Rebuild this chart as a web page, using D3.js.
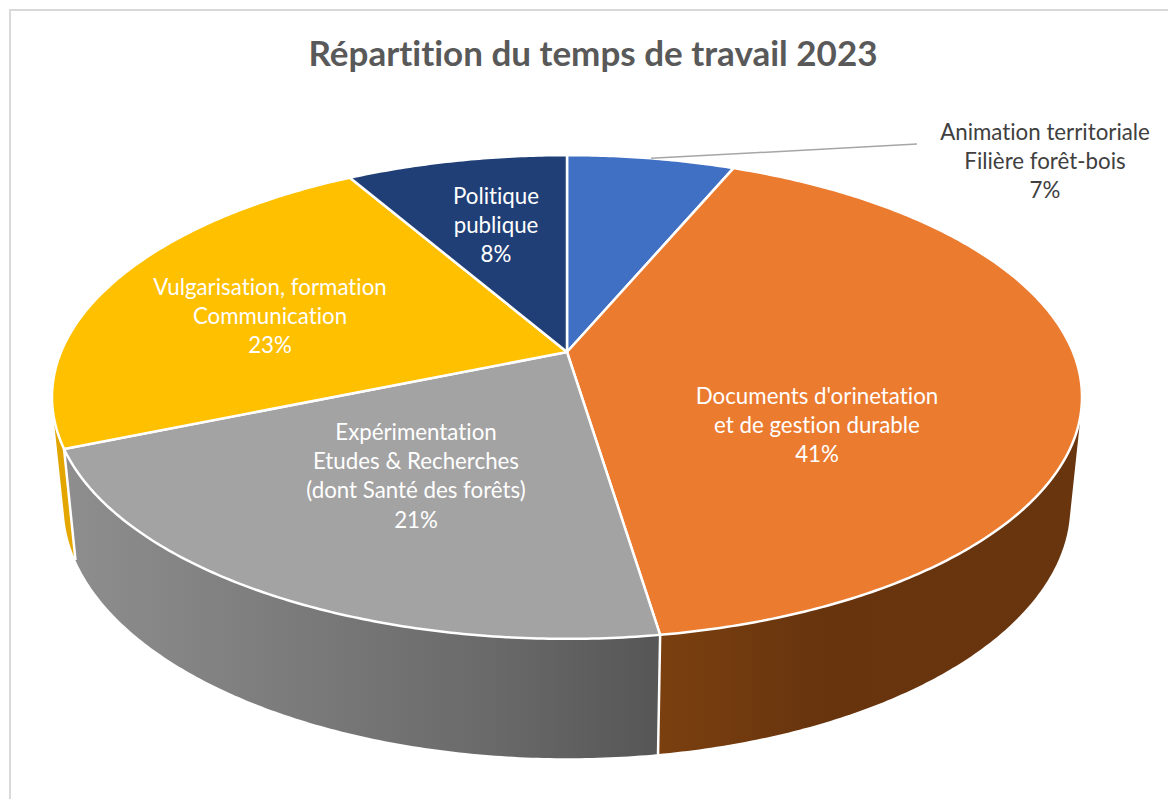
<!DOCTYPE html>
<html lang="fr">
<head>
<meta charset="utf-8">
<script src="https://cdn.jsdelivr.net/npm/d3@7/dist/d3.min.js"></script>
<style>
html,body{margin:0;padding:0;background:#fff;overflow:hidden}
svg{display:block}
text{font-variant-ligatures:none}
</style>
</head>
<body>
<svg id="chart" width="1168" height="799"></svg>
<script>
// Data
const chartTitle = "Répartition du temps de travail 2023";
const categories = [
  ["Animation territoriale", "Filière forêt-bois"],
  ["Documents d'orinetation", "et de gestion durable"],
  ["Expérimentation", "Etudes & Recherches", "(dont Santé des forêts)"],
  ["Vulgarisation, formation", "Communication"],
  ["Politique", "publique"]
];
const values = [6.3, 41.3, 21.1, 23, 8.3];
const shownPercents = ["7%", "41%", "21%", "23%", "8%"];

// Styles and layout
const topColors = ["#4070c4", "#eb7b2f", "#a3a3a3", "#ffc000", "#203f77"];
const labelColors = ["#404040", "#fff", "#fff", "#fff", "#fff"];
const labelCentres = [[1045, 132], [817, 396], [416, 432], [270, 287], [496, 196]];
const lineStep = 29.2;

const svg = d3.select("#chart");
const defs = svg.append("defs");

function gradient(id, stops) {
  const g = defs.append("linearGradient").attr("id", id)
    .attr("gradientUnits", "userSpaceOnUse")
    .attr("x1", 53).attr("x2", 1082).attr("y1", 0).attr("y2", 0);
  stops.forEach(([o, c]) => g.append("stop").attr("offset", o).attr("stop-color", c));
}
gradient("wallGrey", [[0, "#8f8f8f"], [0.2, "#7e7e7e"], [0.42, "#6a6a6a"], [0.58, "#575757"]]);
gradient("wallOrange", [[0.58, "#7c400f"], [0.75, "#67340e"], [1, "#68350f"]]);
gradient("wallYellow", [[0, "#e0a400"], [0.03, "#e8aa00"]]);
const wallFills = [null, "url(#wallOrange)", "url(#wallGrey)", "url(#wallYellow)", null];

// Frame
svg.append("path").attr("d", "M1168,10H10V799")
  .attr("fill", "none").attr("stroke", "#d9d9d9").attr("stroke-width", 2);

// Perspective view of the disc: top face and bottom face
const tilt = 0.186;
const topFace = { x: 567, y: 352, a: 233.5, b: 506 };
const bottomFace = { x: 567, y: 459, a: 243.6, b: 494.5 };
function project(face, angle, r = 1) {
  const u = r * Math.sin(angle), v = -r * Math.cos(angle);
  const d = 1 - tilt * v;
  return [face.x + face.b * u / d, face.y + face.a * v / d];
}
const pie = d3.pie().sort(null).value(d => d);
const slices = pie(values);
const line = d3.line();
function arcPoints(face, a0, a1) {
  const n = Math.max(2, Math.ceil((a1 - a0) / 0.01));
  return d3.range(n + 1).map(i => project(face, a0 + (a1 - a0) * i / n));
}

// Side walls: yellow, grey, then orange in front. The hull closes the silhouette
// between the two faces; the back of each hull is hidden by the top face.
[3, 2, 1].forEach(i => {
  const s = slices[i];
  const pts = arcPoints(topFace, s.startAngle, s.endAngle)
    .concat(arcPoints(bottomFace, s.startAngle, s.endAngle));
  svg.append("path").attr("d", line(d3.polygonHull(pts)) + "Z").attr("fill", wallFills[i]);
});
// White edges between wall sections
[1, 2].forEach(i => {
  const a = slices[i].endAngle;
  svg.append("path").attr("d", line([project(topFace, a), project(bottomFace, a)]))
    .attr("stroke", "#fff").attr("stroke-width", 2.5).attr("fill", "none");
});

// Top face
slices.forEach((s, i) => {
  const pts = [project(topFace, 0, 0)].concat(arcPoints(topFace, s.startAngle, s.endAngle));
  svg.append("path").attr("d", line(pts) + "Z")
    .attr("fill", topColors[i]).attr("stroke", "#fff").attr("stroke-width", 2.5)
    .attr("stroke-linejoin", "round");
});

// Leader line for the first slice
const leaderStart = project(topFace, slices[0].startAngle + (slices[0].endAngle - slices[0].startAngle) * 0.5);
svg.append("path").attr("d", line([leaderStart, [917, 144]]))
  .attr("stroke", "#a6a6a6").attr("stroke-width", 1.5).attr("fill", "none");

// Title
svg.append("text").attr("x", 593).attr("y", 66).attr("text-anchor", "middle")
  .attr("font-family", "Lato, sans-serif").attr("font-weight", 700)
  .attr("font-size", 35).attr("fill", "#595959").text(chartTitle);

// Labels
categories.forEach((lines, i) => {
  const all = lines.concat(shownPercents[i]);
  const t = svg.append("text").attr("text-anchor", "middle")
    .attr("font-family", "Lato, sans-serif").attr("font-size", 22.3)
    .attr("fill", labelColors[i]);
  all.forEach((l, j) => {
    t.append("tspan").attr("x", labelCentres[i][0])
      .attr("y", labelCentres[i][1] + j * lineStep + 8).text(l);
  });
});
</script>
</body>
</html>
